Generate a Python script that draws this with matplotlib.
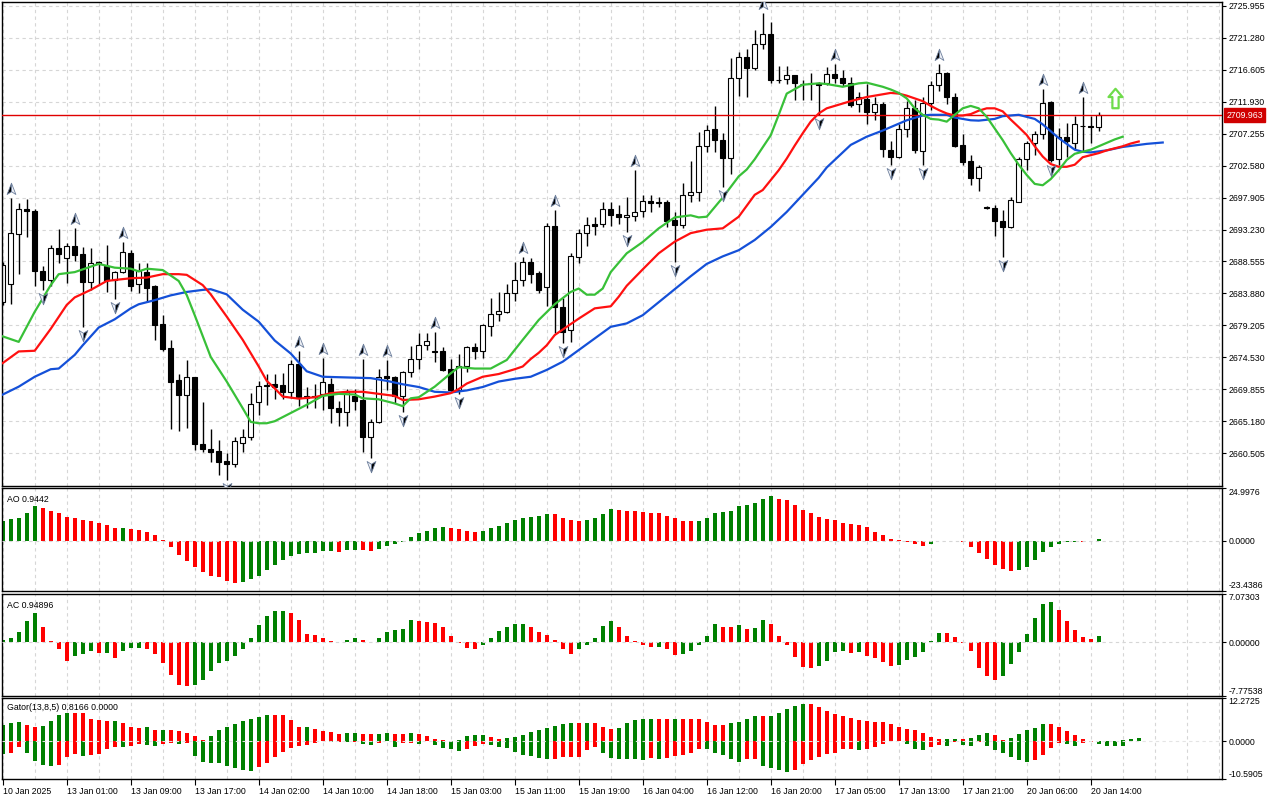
import matplotlib
matplotlib.use('Agg')
import matplotlib.pyplot as plt
from matplotlib.path import Path
from matplotlib.transforms import offset_copy

plt.rcParams['font.family'] = ['Liberation Sans', 'DejaVu Sans']

# ---- price data (H1 bars, 10 Jan 2025 16:00 .. 20 Jan 2025) ----
opens = [2682.6, 2685.2, 2692.5, 2696.2, 2695.9, 2687.2, 2685.8, 2690.5, 2689.0, 2690.8,
         2689.6, 2685.5, 2688.25, 2687.9, 2685.8, 2687.0, 2689.75, 2685.2, 2687.0, 2684.9,
         2679.4, 2675.9, 2671.2, 2669.1, 2671.6, 2661.8, 2661.2, 2660.8, 2659.4, 2658.9,
         2662.0, 2662.9, 2668.0, 2670.55, 2670.6, 2670.5, 2669.5, 2673.6, 2668.55, 2668.85,
         2669.2, 2670.7, 2667.2, 2666.6, 2668.9, 2668.3, 2662.85, 2665.1, 2671.8, 2671.6,
         2668.9, 2672.4, 2674.25, 2676.35, 2675.4, 2675.4, 2672.8, 2669.8, 2673.2, 2676.0,
         2675.4, 2679.1, 2680.9, 2681.2, 2683.9, 2685.8, 2688.5, 2686.8, 2684.8, 2693.75,
         2681.95, 2678.5, 2689.2, 2692.7, 2694.0, 2694.0, 2696.3, 2695.45, 2695.0, 2695.2,
         2696.0, 2697.4, 2697.2, 2697.3, 2694.6, 2693.9, 2698.3, 2698.75, 2705.45, 2707.9,
         2706.3, 2703.65, 2715.35, 2718.4, 2716.8, 2720.35, 2721.8, 2715.15, 2715.2, 2715.8,
         2714.55, 2714.6, 2714.6, 2714.7, 2715.95, 2715.35, 2714.7, 2711.6, 2712.3, 2710.45,
         2711.6, 2704.85, 2703.9, 2707.9, 2710.95, 2704.75, 2711.7, 2714.35, 2716.05, 2712.55,
         2705.6, 2703.3, 2700.7, 2696.5, 2696.35, 2694.45, 2693.65, 2697.3, 2703.5, 2705.95,
         2707.15, 2711.8, 2703.5, 2706.8, 2705.95, 2708.35, 2708.3, 2708.2]
highs = [2688.5, 2697.9, 2697.1, 2697.7, 2696.3, 2687.9, 2691.0, 2693.3, 2691.2, 2693.4,
         2690.6, 2690.5, 2688.6, 2690.9, 2687.1, 2691.35, 2690.2, 2688.4, 2688.4, 2685.1,
         2680.7, 2677.1, 2672.05, 2674.15, 2671.7, 2668.0, 2664.1, 2662.45, 2660.5, 2662.9,
         2664.1, 2669.3, 2671.1, 2672.05, 2672.05, 2672.3, 2674.1, 2675.4, 2670.2, 2670.7,
         2674.4, 2671.5, 2668.1, 2669.9, 2669.9, 2674.25, 2665.5, 2672.8, 2674.1, 2671.8,
         2672.6, 2676.2, 2678.15, 2678.15, 2678.3, 2676.0, 2674.25, 2675.0, 2676.2, 2676.7,
         2679.4, 2683.2, 2684.15, 2685.3, 2688.5, 2689.2, 2689.0, 2687.1, 2694.2, 2696.1,
         2683.2, 2689.75, 2693.3, 2695.0, 2695.0, 2697.3, 2697.3, 2696.8, 2698.0, 2702.0,
         2698.3, 2698.3, 2698.0, 2697.55, 2695.85, 2700.1, 2703.25, 2707.55, 2708.5, 2711.3,
         2707.3, 2718.25, 2719.25, 2719.6, 2722.4, 2724.85, 2723.5, 2717.15, 2717.15, 2715.85,
         2715.1, 2716.1, 2714.85, 2717.05, 2717.45, 2716.55, 2715.5, 2713.4, 2714.5, 2712.65,
         2711.8, 2706.2, 2708.65, 2712.05, 2712.15, 2712.55, 2715.0, 2717.45, 2716.3, 2713.25,
         2707.2, 2704.1, 2702.65, 2696.6, 2696.8, 2696.1, 2697.95, 2703.9, 2706.2, 2707.7,
         2713.75, 2711.95, 2708.0, 2708.85, 2709.85, 2712.55, 2709.85, 2710.45]
lows = [2682.2, 2682.3, 2686.7, 2692.2, 2684.9, 2684.4, 2684.9, 2688.3, 2685.4, 2688.6,
        2679.0, 2684.4, 2685.2, 2684.1, 2683.1, 2686.8, 2684.2, 2683.9, 2682.6, 2677.1,
        2675.4, 2664.1, 2663.8, 2664.2, 2661.0, 2660.75, 2659.3, 2657.4, 2656.6, 2658.55,
        2660.75, 2662.45, 2666.1, 2667.6, 2668.4, 2668.4, 2668.55, 2667.4, 2667.1, 2667.1,
        2666.9, 2664.9, 2664.5, 2664.5, 2666.9, 2660.75, 2659.8, 2665.0, 2669.7, 2667.9,
        2666.6, 2671.7, 2672.8, 2675.6, 2673.8, 2672.6, 2669.4, 2669.2, 2672.45, 2674.25,
        2674.4, 2677.7, 2679.9, 2681.0, 2682.8, 2684.9, 2685.4, 2684.0, 2682.05, 2678.15,
        2676.6, 2676.8, 2688.4, 2690.8, 2692.4, 2693.65, 2693.7, 2694.0, 2692.8, 2694.4,
        2695.1, 2695.8, 2696.5, 2693.65, 2688.5, 2693.4, 2697.3, 2697.45, 2704.6, 2704.6,
        2699.5, 2701.35, 2712.75, 2712.55, 2716.55, 2719.6, 2714.7, 2714.7, 2714.5, 2712.2,
        2712.2, 2712.2, 2710.0, 2714.35, 2714.7, 2714.2, 2711.2, 2710.45, 2708.65, 2709.25,
        2703.9, 2702.65, 2703.65, 2706.8, 2704.35, 2702.65, 2710.7, 2713.55, 2711.6, 2705.35,
        2702.65, 2699.75, 2698.9, 2696.2, 2692.3, 2689.15, 2693.4, 2697.3, 2701.95, 2704.1,
        2706.4, 2703.15, 2702.65, 2703.9, 2704.85, 2704.6, 2705.95, 2707.7]
closes = [2688.0, 2692.7, 2696.2, 2695.9, 2687.1, 2685.8, 2690.5, 2689.6, 2690.8, 2689.5,
          2685.5, 2688.4, 2688.45, 2685.8, 2687.0, 2689.9, 2685.0, 2687.1, 2684.7, 2679.3,
          2675.8, 2671.0, 2669.1, 2671.7, 2661.8, 2661.2, 2660.75, 2659.2, 2658.9, 2662.3,
          2662.9, 2667.7, 2670.4, 2670.4, 2670.2, 2669.5, 2673.6, 2668.55, 2668.9, 2668.75,
          2670.9, 2667.2, 2666.6, 2669.5, 2668.2, 2662.85, 2665.1, 2671.6, 2671.5, 2668.9,
          2672.4, 2674.25, 2676.35, 2677.0, 2675.35, 2672.7, 2669.8, 2673.2, 2676.0, 2675.4,
          2679.3, 2680.9, 2681.3, 2683.9, 2685.85, 2688.5, 2686.7, 2684.4, 2693.75, 2681.85,
          2678.3, 2689.3, 2692.7, 2693.85, 2693.8, 2696.3, 2695.35, 2695.0, 2695.3, 2695.85,
          2697.4, 2697.05, 2697.15, 2694.5, 2693.9, 2698.3, 2698.75, 2705.45, 2707.8, 2706.3,
          2703.65, 2715.35, 2718.4, 2716.8, 2720.35, 2721.8, 2715.1, 2715.05, 2715.8, 2714.6,
          2714.5, 2714.65, 2714.35, 2715.95, 2715.35, 2714.7, 2711.45, 2712.55, 2710.45, 2711.6,
          2704.95, 2703.9, 2707.9, 2710.95, 2704.85, 2711.7, 2714.35, 2716.05, 2712.55, 2705.45,
          2703.15, 2700.7, 2702.4, 2696.35, 2694.4, 2693.65, 2697.55, 2703.5, 2705.95, 2707.15,
          2711.7, 2703.4, 2706.8, 2706.1, 2708.6, 2708.4, 2708.25, 2709.96]

last_price = 2709.963

# fractals (bar numbers)
fractal_up = [1, 9, 15, 37, 40, 45, 48, 54, 65, 69, 79, 95, 104, 117, 130, 135]
fractal_down = [5, 10, 14, 28, 46, 50, 57, 70, 78, 84, 90, 102, 111, 115, 125, 131]

# buy signal arrow
signal_bar = 139
signal_price = 2712.5

# ---- alligator (read at sample bars) ----
jaw_bars = [0, 2, 4, 6, 7, 9, 10, 12, 14, 16, 17, 19, 21, 23, 25, 26, 28, 30, 32, 34,
            36, 38, 40, 43, 46, 48, 50, 52, 54, 56, 58, 60, 62, 64, 66, 68, 70, 72, 74, 76,
            78, 80, 82, 84, 86, 88, 90, 92, 94, 96, 98, 100, 102, 103, 105, 106, 108, 110, 111, 113,
            115, 116, 118, 119, 121, 122, 124, 125, 127, 129, 130, 132, 134, 135, 136, 138, 140, 141, 143, 145]
jaw_vals = [2669.1, 2670.25, 2671.7, 2672.8, 2672.9, 2674.9, 2676.3, 2678.9, 2680.1, 2681.7,
            2682.3, 2682.9, 2683.6, 2684.1, 2684.4, 2684.5, 2683.75, 2681.5, 2679.75, 2677.0,
            2675.1, 2672.5, 2671.7, 2671.6, 2671.5, 2671.1, 2670.6, 2670.2, 2669.5, 2669.4,
            2669.7, 2670.2, 2671.0, 2671.4, 2671.7, 2672.7, 2673.9, 2675.6, 2677.3, 2679.0,
            2679.5, 2680.7, 2682.6, 2684.5, 2686.4, 2688.2, 2689.3, 2690.2, 2691.7, 2693.6,
            2695.8, 2698.3, 2700.8, 2702.3, 2704.5, 2705.6, 2706.8, 2707.7, 2708.2, 2709.2,
            2709.9, 2710.0, 2710.0, 2709.6, 2709.2, 2709.15, 2709.4, 2709.8, 2710.0, 2709.4,
            2708.6, 2706.6, 2704.9, 2704.6, 2704.5, 2704.8, 2705.3, 2705.45, 2705.75, 2705.95]

teeth_bars = [0, 2, 4, 6, 8, 9, 11, 13, 14, 16, 18, 20, 22, 23, 25, 26, 28, 30, 32, 33,
              34, 35, 37, 39, 41, 43, 45, 47, 49, 50, 52, 54, 56, 57, 58, 60, 62, 64, 65, 66,
              67, 68, 69, 70, 72, 74, 76, 77, 78, 80, 82, 84, 86, 88, 90, 92, 94, 95, 97, 98,
              99, 100, 101, 102, 103, 104, 106, 108, 110, 111, 112, 113, 114, 115, 116, 117, 118, 119, 120, 121,
              122, 123, 124, 125, 126, 127, 128, 129, 130, 131, 132, 133, 134, 135, 136, 137, 138, 139, 140, 141,
              142]
teeth_vals = [2673.7, 2675.4, 2675.5, 2678.7, 2682.2, 2683.3, 2684.4, 2685.7, 2685.85, 2686.1,
              2686.2, 2686.7, 2686.7, 2686.6, 2685.1, 2683.75, 2680.5, 2677.1, 2673.2, 2671.1,
              2670.0, 2668.8, 2668.5, 2668.7, 2669.3, 2669.5, 2669.5, 2669.2, 2668.9, 2668.3,
              2668.4, 2668.8, 2669.3, 2669.9, 2670.7, 2671.7, 2672.1, 2672.8, 2673.2, 2674.3,
              2675.2, 2676.3, 2677.8, 2678.6, 2680.2, 2681.7, 2682.0, 2683.4, 2685.0, 2687.4,
              2689.75, 2691.45, 2692.7, 2693.2, 2693.4, 2695.1, 2698.3, 2699.0, 2701.9, 2703.6,
              2705.5, 2707.3, 2709.0, 2710.2, 2710.95, 2711.3, 2712.0, 2712.6, 2713.0, 2713.2,
              2713.1, 2712.8, 2712.4, 2712.0, 2711.3, 2710.7, 2710.2, 2709.9, 2709.9, 2710.1,
              2710.6, 2710.95, 2710.95, 2710.5, 2709.3, 2708.2, 2707.05, 2705.4, 2703.9, 2702.8,
              2702.4, 2702.4, 2702.7, 2703.8, 2704.1, 2704.4, 2704.8, 2705.1, 2705.4, 2705.8,
              2706.1]

lips_bars = [0, 2, 4, 6, 7, 9, 11, 12, 14, 16, 17, 18, 20, 22, 23, 24, 26, 28, 30, 31,
             32, 33, 34, 36, 38, 40, 42, 44, 45, 47, 49, 50, 51, 52, 54, 56, 57, 59, 61, 63,
             65, 67, 69, 70, 71, 72, 73, 74, 75, 76, 78, 80, 82, 84, 86, 87, 88, 90, 92, 93,
             94, 96, 97, 98, 100, 102, 103, 105, 107, 108, 110, 111, 112, 113, 114, 115, 116, 117, 118, 119,
             120, 121, 122, 123, 124, 125, 126, 127, 128, 129, 130, 131, 132, 133, 134, 135, 136, 137, 138, 139,
             140]
lips_vals = [2677.6, 2676.8, 2681.2, 2685.1, 2686.7, 2687.0, 2687.8, 2688.2, 2687.65, 2687.5,
             2687.1, 2687.5, 2687.3, 2685.7, 2683.65, 2680.7, 2674.6, 2671.0, 2667.1, 2665.1,
             2664.9, 2664.9, 2665.2, 2666.4, 2667.6, 2668.9, 2669.2, 2669.1, 2668.55, 2668.4,
             2667.8, 2667.4, 2668.55, 2668.7, 2670.25, 2672.2, 2673.1, 2672.9, 2672.9, 2674.15,
             2677.1, 2680.0, 2682.3, 2683.2, 2684.1, 2684.6, 2683.7, 2683.7, 2684.6, 2687.0,
             2689.75, 2691.4, 2693.4, 2695.0, 2695.3, 2695.0, 2695.1, 2697.9, 2701.0, 2702.0,
             2703.5, 2707.0, 2710.0, 2713.1, 2714.4, 2714.6, 2714.5, 2714.1, 2714.6, 2714.7,
             2714.1, 2713.7, 2713.2, 2712.4, 2710.95, 2710.0, 2709.4, 2709.3, 2709.0, 2710.0,
             2710.95, 2711.3, 2710.95, 2709.7, 2708.0, 2706.3, 2704.4, 2702.7, 2701.2, 2699.9,
             2699.7, 2700.6, 2701.9, 2703.4, 2704.3, 2704.6, 2704.9, 2705.4, 2705.9, 2706.4,
             2706.8]

# ---- oscillators ----
ao_vals = [9.25, 10.34, 10.97, 13.42, 16.33, 15.33, 14.33, 13.42, 11.52, 10.70,
           9.89, 9.43, 8.34, 7.53, 5.90, 6.26, 5.71, 5.08, 4.35, 2.72,
           0.32, -2.90, -6.53, -9.61, -12.15, -14.87, -16.42, -17.23, -19.14, -19.68,
           -19.59, -18.05, -16.42, -13.70, -11.52, -8.98, -7.17, -6.08, -5.71, -5.62,
           -4.81, -4.63, -5.26, -4.44, -4.17, -4.44, -4.63, -3.67, -2.27, -1.27,
           -0.32, 1.90, 3.54, 4.81, 5.90, 6.71, 6.26, 5.62, 4.63, 4.31,
           4.63, 5.90, 7.17, 8.34, 9.89, 10.97, 11.52, 11.97, 12.61, 12.52,
           10.70, 9.89, 9.61, 9.89, 10.70, 12.79, 14.97, 14.69, 14.33, 14.24,
           13.88, 13.42, 13.06, 11.97, 10.70, 9.61, 9.52, 9.61, 10.97, 13.42,
           13.88, 14.33, 16.33, 16.78, 17.87, 19.95, 21.04, 19.95, 19.14, 17.05,
           14.69, 13.42, 11.52, 10.52, 9.89, 8.34, 7.98, 7.53, 6.35, 4.31,
           2.72, 1.09, 0.63, -0.45, -1.27, -2.54, -1.27, -0.18, 0.09, -0.09,
           -0.45, -2.90, -5.71, -8.44, -11.34, -13.24, -14.06, -13.70, -12.15, -8.98,
           -5.26, -2.90, -1.27, -0.63, -0.32, -0.36, -0.09, 0.9442]

ac_vals = [0.27, 0.63, 1.52, 3.13, 4.30, 2.24, 0.13, -1.07, -2.69, -2.06,
           -1.70, -1.25, -1.57, -1.52, -2.33, -1.25, -0.90, -0.81, -1.07, -1.70,
           -3.04, -4.74, -6.18, -6.35, -6.18, -5.50, -4.21, -3.04, -2.77, -2.06,
           -1.07, 0.63, 2.42, 3.76, 4.48, 4.56, 4.21, 3.22, 1.25, 1.03,
           0.54, 0.13, 0.04, 0.27, 0.54, 0.27, -0.02, 0.54, 1.48, 1.79,
           1.92, 3.22, 3.13, 2.95, 2.77, 2.24, 0.90, -0.09, -0.81, -1.07,
           -0.45, 0.63, 1.61, 2.24, 2.60, 2.69, 2.15, 1.48, 1.03, 0.27,
           -1.07, -1.79, -1.07, -0.36, 0.63, 2.33, 3.00, 2.15, 0.90, 0.13,
           -0.45, -0.72, -0.67, -1.07, -1.88, -1.70, -1.25, -0.45, 0.90, 2.60,
           2.24, 2.15, 2.46, 1.97, 2.01, 3.22, 2.69, 0.94, -0.45, -2.24,
           -3.58, -3.76, -3.45, -2.69, -1.43, -1.25, -1.57, -1.43, -2.06, -2.33,
           -2.91, -3.45, -3.27, -2.55, -2.19, -1.43, 0.13, 1.34, 1.30, 0.72,
           -0.18, -1.25, -3.76, -4.92, -5.46, -4.97, -3.22, -1.43, 1.25, 3.45,
           5.55, 5.82, 4.65, 3.04, 1.79, 0.81, 0.49, 0.94896]

gator_up = [4.53, 5.06, 5.33, 4.66, 3.91, 4.35, 5.77, 7.46, 8.04, 7.95,
            7.90, 6.13, 5.99, 5.73, 5.82, 5.02, 3.91, 3.82, 3.86, 3.20,
            3.24, 3.20, 2.93, 2.31, 1.55, 0.27, 1.38, 3.02, 4.08, 4.75,
            5.77, 6.13, 6.84, 7.46, 7.41, 7.28, 5.95, 3.91, 3.95, 3.37,
            2.84, 2.58, 2.00, 2.26, 2.31, 2.00, 1.95, 2.04, 2.26, 2.00,
            1.95, 2.26, 2.09, 1.38, 0.62, 0.44, 0.04, 0.44, 1.38, 1.64,
            1.69, 1.11, 0.71, 0.80, 1.11, 1.64, 2.49, 3.02, 3.82, 4.40,
            4.93, 5.19, 5.02, 5.21, 5.02, 4.08, 3.55, 3.82, 5.19, 5.95,
            6.30, 6.35, 6.30, 6.26, 6.30, 6.26, 6.22, 6.13, 5.51, 4.66,
            4.62, 5.02, 5.51, 6.30, 7.10, 7.06, 7.15, 7.99, 9.06, 9.86,
            10.43, 10.39, 9.59, 8.48, 7.77, 7.10, 6.57, 6.04, 5.77, 5.46,
            5.42, 4.93, 4.08, 3.55, 3.02, 2.18, 1.11, 0.53, 0.58, 0.62,
            0.58, 0.84, 1.64, 2.18, 1.64, 0.27, 0.84, 1.91, 3.02, 3.82,
            4.93, 4.88, 4.08, 2.84, 1.64, 0.53, 0.09, 0.04, 0.09, 0.13,
            0.27, 0.53, 0.8166]

gator_down = [-3.64, -3.20, -1.55, -3.20, -5.68, -6.57, -7.02, -6.57, -4.53, -3.46,
              -4.08, -3.82, -3.64, -2.13, -1.55, -1.60, -1.38, -0.89, -0.93, -1.20,
              -0.71, -0.44, -0.71, -0.44, -4.26, -5.95, -6.13, -6.22, -6.84, -7.55,
              -7.95, -8.21, -7.28, -6.13, -4.53, -2.93, -1.82, -1.20, -1.02, -0.44,
              -0.04, -0.27, -0.25, -0.31, -0.27, -0.71, -0.98, -0.44, -0.04, -1.55,
              -0.44, -0.36, -0.71, -0.04, -0.98, -1.82, -2.31, -2.75, -2.13, -1.38,
              -0.71, -0.98, -1.55, -1.91, -2.93, -3.91, -4.08, -4.66, -4.93, -4.88,
              -4.40, -4.35, -4.31, -2.49, -1.64, -3.20, -4.66, -4.93, -5.02, -5.11,
              -5.15, -4.71, -4.93, -4.66, -4.13, -3.82, -3.37, -2.09, -2.13, -3.20,
              -3.86, -4.93, -5.77, -4.93, -4.88, -6.84, -7.59, -7.95, -8.66, -7.95,
              -6.30, -5.24, -4.31, -3.46, -3.20, -2.31, -2.26, -2.58, -2.26, -1.55,
              -0.71, -0.04, -0.02, -0.71, -2.09, -2.49, -1.64, -0.98, -1.38, -0.18,
              -0.98, -1.20, -0.27, -1.20, -2.58, -3.20, -4.31, -5.37, -5.95, -5.28,
              -3.73, -1.82, -0.44, -0.71, -1.38, -0.44, -0.27, -0.71, -1.38, -1.42,
              -1.47]

price_ticks = [2725.955, 2721.280, 2716.605, 2711.930, 2707.255, 2702.580, 2697.905, 2693.230,
               2688.555, 2683.880, 2679.205, 2674.530, 2669.855, 2665.180, 2660.505]
ao_range = (-23.4386, 24.9976)
ac_range = (-7.77538, 7.07303)
gator_range = (-10.5905, 12.2725)
time_labels = ['10 Jan 2025', '13 Jan 01:00', '13 Jan 09:00', '13 Jan 17:00', '14 Jan 02:00',
               '14 Jan 10:00', '14 Jan 18:00', '15 Jan 03:00', '15 Jan 11:00', '15 Jan 19:00',
               '16 Jan 04:00', '16 Jan 12:00', '16 Jan 20:00', '17 Jan 05:00', '17 Jan 13:00',
               '17 Jan 21:00', '20 Jan 06:00', '20 Jan 14:00']

# ---- style ----
GREEN = '#008000'
RED = '#ff0000'
GRID = '#d6d6d6'
FS = 6.3
n = len(closes)
bars = list(range(n))
grid_x = list(range(0, 153, 4))
xlim = (-0.09, 152.41)


def rising_colors(vals, use_abs=False):
    out = []
    for i, v in enumerate(vals):
        if i == 0:
            out.append(GREEN)
            continue
        a, b = (abs(v), abs(vals[i - 1])) if use_abs else (v, vals[i - 1])
        out.append(GREEN if a > b else RED)
    return out


def style_axis(ax, lo, hi):
    ax.set_xlim(*xlim)
    ax.set_ylim(lo, hi)
    ax.set_xticks([])
    for x in grid_x:
        ax.axvline(x, color=GRID, lw=0.8, ls=(0, (3, 3)), zorder=0)
    ax.yaxis.tick_right()
    ax.tick_params(axis='y', direction='out', length=3, width=0.8, labelsize=FS, pad=1.5)
    for s in ax.spines.values():
        s.set_linewidth(1.0)
        s.set_color('black')


fig = plt.figure(figsize=(12.8, 8), dpi=100)
W, H = 1280.0, 800.0


def panel(top, bottom):
    return fig.add_axes([2 / W, (H - bottom) / H, 1220 / W, (bottom - top) / H])


# ---- main chart ----
ax = panel(2.3, 485.7)
style_axis(ax, 2655.77, 2726.45)
ax.set_yticks(price_ticks)
ax.set_yticklabels(['%.3f' % p for p in price_ticks])
for p in price_ticks:
    ax.axhline(p, color=GRID, lw=0.8, ls=(0, (3, 3)), zorder=0)

ax.vlines(bars, lows, highs, color='black', lw=1.0, zorder=2)
body_lo = [min(o, c) for o, c in zip(opens, closes)]
body_h = [abs(c - o) for o, c in zip(opens, closes)]
body_fc = ['white' if c >= o else 'black' for o, c in zip(opens, closes)]
ax.bar(bars, body_h, bottom=body_lo, width=0.6, color=body_fc, edgecolor='black',
       linewidth=0.8, zorder=2.5)

ax.plot(jaw_bars, jaw_vals, color='#1450d8', lw=1.6, zorder=4)
ax.plot(teeth_bars, teeth_vals, color='#ff1010', lw=1.6, zorder=4)
ax.plot(lips_bars, lips_vals, color='#38c038', lw=1.6, zorder=4)

ax.axhline(last_price, color='#e00000', lw=1.0, zorder=3)

# fractal glyphs: split arrowheads (dark left half, light right half)
left_up = Path([(0, 1), (0, -0.35), (-0.7, -0.8), (0, 1)],
               [Path.MOVETO, Path.LINETO, Path.LINETO, Path.CLOSEPOLY])
right_up = Path([(0, 1), (0.7, -0.8), (0, -0.35), (0, 1)],
                [Path.MOVETO, Path.LINETO, Path.LINETO, Path.CLOSEPOLY])
left_dn = Path([(0, -1), (0, 0.35), (-0.7, 0.8), (0, -1)],
               [Path.MOVETO, Path.LINETO, Path.LINETO, Path.CLOSEPOLY])
right_dn = Path([(0, -1), (0.7, 0.8), (0, 0.35), (0, -1)],
                [Path.MOVETO, Path.LINETO, Path.LINETO, Path.CLOSEPOLY])
up_tr = offset_copy(ax.transData, fig=fig, y=9, units='dots')
dn_tr = offset_copy(ax.transData, fig=fig, y=-8, units='dots')
up_y = [highs[i] for i in fractal_up]
dn_y = [lows[i] for i in fractal_down]
for mk, fc in ((left_up, 'black'), (right_up, '#eef0f6')):
    ax.plot(fractal_up, up_y, ls='none', marker=mk, ms=9, mfc=fc, mec='#6d7f9c',
            mew=0.6, transform=up_tr, zorder=5, clip_on=True)
for mk, fc in ((left_dn, '#eef0f6'), (right_dn, 'black')):
    ax.plot(fractal_down, dn_y, ls='none', marker=mk, ms=9, mfc=fc, mec='#6d7f9c',
            mew=0.6, transform=dn_tr, zorder=5, clip_on=True)

block_arrow = Path([(0, 1), (0.72, 0.15), (0.32, 0.15), (0.32, -1), (-0.32, -1),
                    (-0.32, 0.15), (-0.72, 0.15), (0, 1)],
                   [Path.MOVETO] + [Path.LINETO] * 6 + [Path.CLOSEPOLY])
ax.plot([signal_bar], [signal_price], ls='none', marker=block_arrow, ms=14,
        mfc='white', mec='#6fdc4a', mew=1.6, zorder=5)

ax.annotate('%.3f' % last_price, xy=(1.0, last_price), xycoords=('axes fraction', 'data'),
            xytext=(3, 0), textcoords='offset points', ha='left', va='center',
            fontsize=FS, color='white', annotation_clip=False,
            bbox=dict(boxstyle='square,pad=0.25', fc='#d00000', ec='#d00000'))

# ---- AO ----
ax_ao = panel(488.0, 590.5)
style_axis(ax_ao, *ao_range)
ax_ao.bar(bars, ao_vals, width=0.5, color=rising_colors(ao_vals), zorder=2)
ax_ao.axhline(0, color=GRID, lw=0.8, ls=(0, (3, 3)), zorder=3)
ax_ao.set_yticks([ao_range[0], 0, ao_range[1]])
ax_ao.set_yticklabels(['%.4f' % ao_range[0], '0.0000', '%.4f' % ao_range[1]])
ax_ao.text(0.004, 0.93, 'AO %.4f' % ao_vals[-1], transform=ax_ao.transAxes,
           fontsize=FS, va='top', ha='left')

# ---- AC ----
ax_ac = panel(593.5, 695.5)
style_axis(ax_ac, *ac_range)
ax_ac.bar(bars, ac_vals, width=0.5, color=rising_colors(ac_vals), zorder=2)
ax_ac.axhline(0, color=GRID, lw=0.8, ls=(0, (3, 3)), zorder=3)
ax_ac.set_yticks([ac_range[0], 0, ac_range[1]])
ax_ac.set_yticklabels(['%.5f' % ac_range[0], '0.00000', '%.5f' % ac_range[1]])
ax_ac.text(0.004, 0.93, 'AC %.5f' % ac_vals[-1], transform=ax_ac.transAxes,
           fontsize=FS, va='top', ha='left')

# ---- Gator ----
ax_g = panel(697.5, 779.0)
style_axis(ax_g, *gator_range)
ax_g.bar(list(range(len(gator_up))), gator_up, width=0.5,
         color=rising_colors(gator_up), zorder=2)
ax_g.bar(list(range(len(gator_down))), gator_down, width=0.5,
         color=rising_colors(gator_down, use_abs=True), zorder=2)
ax_g.axhline(0, color='#e4e4e4', lw=0.8, ls=(0, (3, 3)), zorder=3)
ax_g.set_yticks([gator_range[0], 0, gator_range[1]])
ax_g.set_yticklabels(['%.4f' % gator_range[0], '0.0000', '%.4f' % gator_range[1]])
ax_g.text(0.004, 0.93, 'Gator(13,8,5) %.4f 0.0000' % gator_up[-1], transform=ax_g.transAxes,
          fontsize=FS, va='top', ha='left')
ax_g.set_xticks(list(range(0, 8 * len(time_labels), 8)))
ax_g.set_xticklabels(time_labels, ha='left')
ax_g.tick_params(axis='x', direction='out', length=4, width=0.8, labelsize=FS, pad=1.5)

for a in (ax_ao, ax_ac, ax_g):
    labs = a.get_yticklabels()
    labs[0].set_va('bottom')
    labs[-1].set_va('top')

fig.savefig('out.png', dpi=100, facecolor='white')
